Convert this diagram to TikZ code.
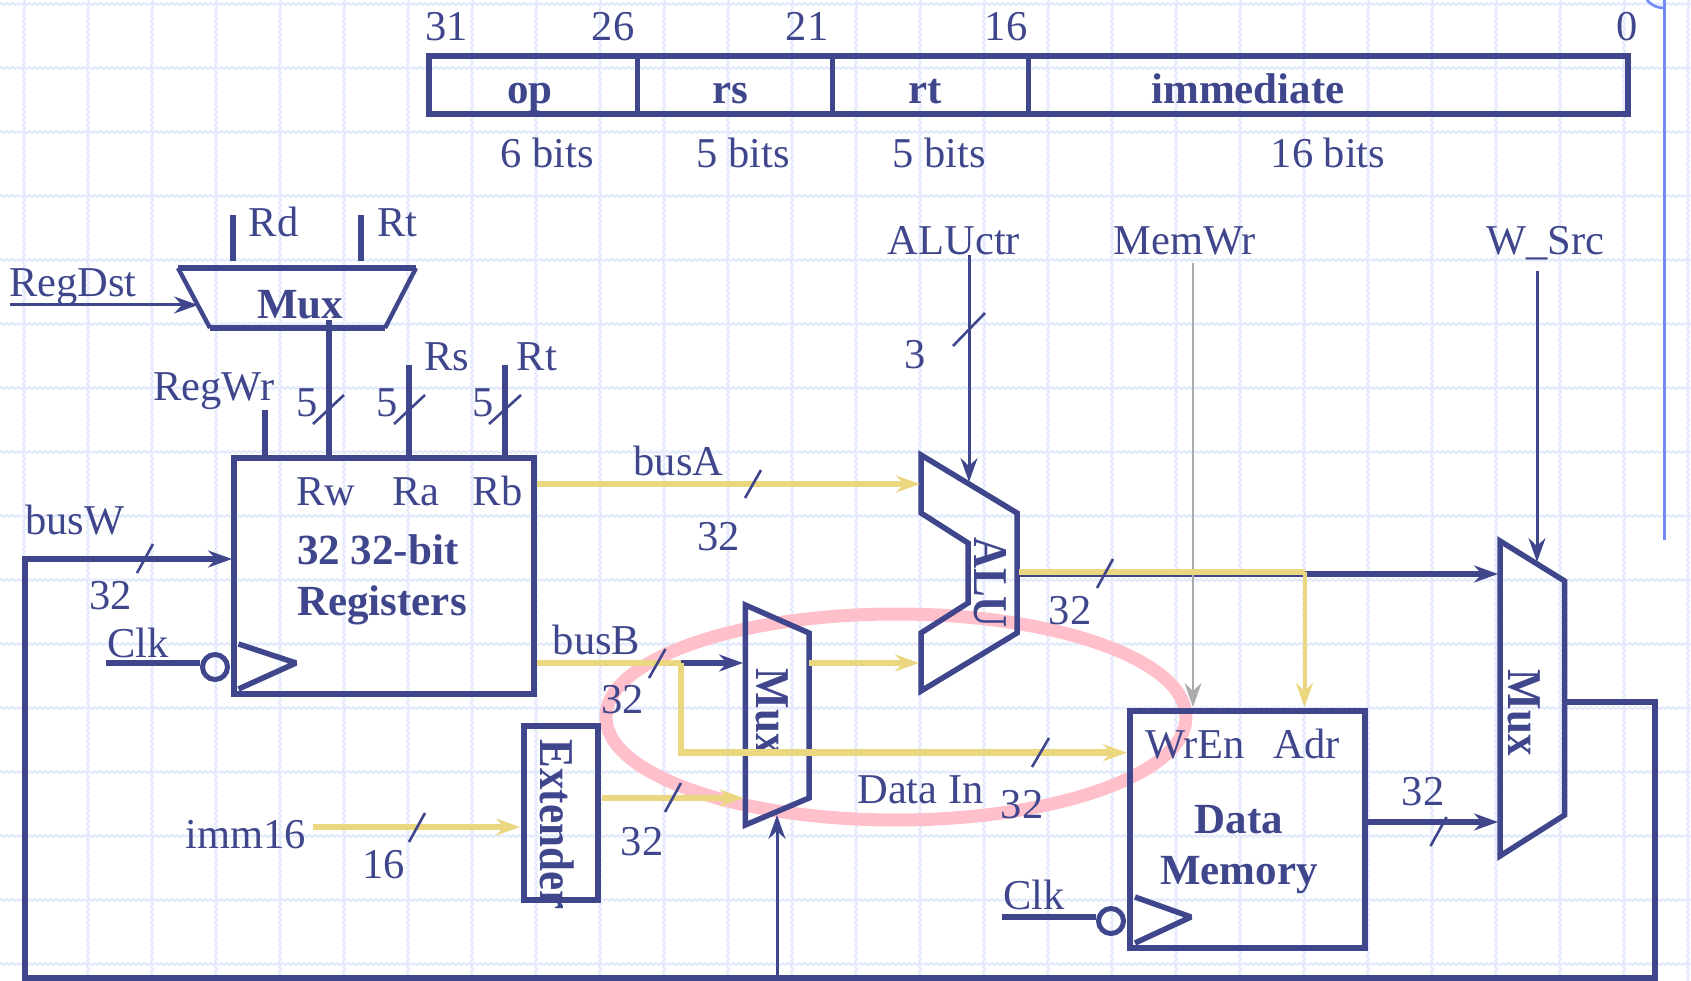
\documentclass[tikz,border=0pt]{standalone}
\usepackage{fontspec}
\setmainfont{Liberation Serif}
\usetikzlibrary{arrows.meta,decorations.pathmorphing,shapes.geometric}
\definecolor{navy}{HTML}{3F468C}
\definecolor{busyel}{HTML}{EBD780}
\definecolor{ringpink}{HTML}{FFC0CB}
\definecolor{edgeblue}{HTML}{7389F5}
\definecolor{gridblue}{HTML}{E4EBFC}
\definecolor{ctlgray}{HTML}{ABABAB}
\newcommand{\tallbold}[1]{\scalebox{1}[1.13]{#1}}
\tikzset{
  lab/.style={anchor=base,text=navy,inner sep=0pt,yshift=-1.5pt,font=\fontsize{42.5}{45}\selectfont},
  blab/.style={lab,font=\fontsize{43}{45}\selectfont\bfseries},
  vlab/.style={blab,rotate=-90,yshift=3.5pt,xshift=2pt},
  boxst/.style={draw=navy,line width=6pt,inner sep=0pt,outer sep=0pt,rectangle},
  shapeline/.style={draw=navy,line width=5.5pt,line join=miter},
  clockline/.style={draw=navy,line width=5.5pt,line join=bevel},
  tip/.style={-{Stealth[length=24pt,width=17pt,inset=8pt]}},
  wthick/.style={draw=navy,line width=6pt},
  wthin/.style={draw=navy,line width=3pt},
  wyel/.style={draw=busyel,line width=6.5pt},
  wgray/.style={draw=ctlgray,line width=2.4pt},
  ticksl/.style={draw=navy,line width=2.6pt},
  gridl/.style={draw=gridblue,line width=2.2pt,decorate,decoration={snake,segment length=5.5pt,amplitude=0.9pt}},
}
\begin{document}
\begin{tikzpicture}[x=1pt,y=-1pt]
\useasboundingbox (0,0) rectangle (1691,981);
\begin{scope}
\clip (0,0) rectangle (1691,981);
% background grid
\foreach \g in {4,68,132,196,260,324,388,452,516,580,644,708,772,836,900,964}
  \draw[gridl] (0,\g) -- (1691,\g);
\foreach \g in {24,88,152,216,280,344,408,472,536,600,664,728,792,856,920,984,1048,1112,1176,1240,1304,1368,1432,1496,1560,1624,1688}
  \draw[gridl] (\g,0) -- (\g,981);
% slide edge
\draw[draw=edgeblue,line width=2.6pt] (1664.4,0) -- (1664.4,540);
\draw[draw=edgeblue,line width=2.6pt] (1647,0) .. controls (1652,6) and (1658,8) .. (1664.4,8);
\end{scope}
% highlight ring
\node[draw=ringpink,line width=13pt,ellipse,minimum width=580pt,minimum height=206pt,inner sep=0pt,outer sep=0pt] (ring) at (896,717) {};

% instruction format
\node[boxst,minimum width=1199pt,minimum height=58pt] (fmt) at (1028.5,85) {};
\coordinate (d1t) at (637,54); \coordinate (d1b) at (637,114);
\coordinate (d2t) at (832,54); \coordinate (d2b) at (832,114);
\coordinate (d3t) at (1028.6,54); \coordinate (d3b) at (1028.6,114);
\draw[draw=navy,line width=5pt] (d1t) -- (d1b);
\draw[draw=navy,line width=5pt] (d2t) -- (d2b);
\draw[draw=navy,line width=5pt] (d3t) -- (d3b);
\node[lab] (b31) at (446.5,39) {31};
\node[lab] (b26) at (613,39) {26};
\node[lab] (b21) at (807,39) {21};
\node[lab] (b16) at (1006,39) {16};
\node[lab] (b0) at (1627,39) {0};
\node[blab] (fop) at (530,102) {op};
\node[blab] (frs) at (730,102) {rs};
\node[blab] (frt) at (925,102) {rt};
\node[blab] (fimm) at (1248,102) {immediate};
\node[lab] (w6) at (547.5,166) {6 bits};
\node[lab] (w5a) at (743.5,166) {5 bits};
\node[lab] (w5b) at (939,166) {5 bits};
\node[lab] (w16) at (1328,166) {16 bits};

% RegDst mux
\coordinate (mt1) at (178,268); \coordinate (mt2) at (416,268);
\coordinate (mt3) at (385,328); \coordinate (mt4) at (210,328);
\draw[shapeline,line width=4.4pt] (mt1) -- (mt4) (mt2) -- (mt3);
\draw[wthick,line width=6.5pt] (mt1) -- (mt2);
\draw[wthick,line width=6.5pt] (mt4) -- (mt3);
\node[blab] (mtxt) at (300,317) {Mux};
\coordinate (rdT) at (233,215); \coordinate (rdB) at (233,261);
\coordinate (rtT) at (360.5,215); \coordinate (rtB) at (360.5,261);
\draw[wthick] (rdT) -- (rdB);
\draw[wthick] (rtT) -- (rtB);
\node[lab] (lRd) at (273.5,235) {Rd};
\node[lab] (lRt) at (397.5,235) {Rt};
\node[lab] (lRegDst) at (73,295) {RegDst};
\coordinate (rdsA) at (10,305); \coordinate (rdsB) at (198,305);
\draw[wthin,tip] (rdsA) -- (rdsB);

% Registers
\node[boxst,minimum width=300pt,minimum height=236pt] (regs) at (384,576) {};
\coordinate (rwT) at (328.5,320); \coordinate (rwB) at (328.5,457);
\coordinate (raT) at (408.7,365); \coordinate (raB) at (408.7,457);
\coordinate (rbT) at (504.6,365); \coordinate (rbB) at (504.6,457);
\coordinate (wrT) at (264.5,410); \coordinate (wrB) at (264.5,457);
\draw[wthick] (rwT) -- (rwB);
\draw[wthick] (raT) -- (raB);
\draw[wthick] (rbT) -- (rbB);
\draw[wthick] (wrT) -- (wrB);
\draw[ticksl] (313,424) -- (344,395);
\draw[ticksl] (394,424) -- (425,395);
\draw[ticksl] (489,424) -- (521,395);
\node[lab] (n5a) at (307,415) {5};
\node[lab] (n5b) at (387,415) {5};
\node[lab] (n5c) at (483,415) {5};
\node[lab] (lRs) at (447,369) {Rs};
\node[lab] (lRt2) at (537,369) {Rt};
\node[lab] (lRegWr) at (214,399) {RegWr};
\node[lab] (lRw) at (326,504) {Rw};
\node[lab] (lRa) at (416,504) {Ra};
\node[lab] (lRb) at (497.5,504) {Rb};
\node[blab,anchor=base west] (l3232) at (297,563) {32 32-bit};
\node[blab,anchor=base west] (lRegs) at (297,614) {Registers};
\coordinate (ck1a) at (238.5,644); \coordinate (ck1b) at (296,663); \coordinate (ck1c) at (238.5,689);
\draw[clockline] (ck1a) -- (ck1b) -- (ck1c);
\node[draw=navy,line width=5pt,circle,minimum size=25pt,inner sep=0pt] (bub1) at (215,667) {};
\coordinate (clk1) at (105.7,662.7);
\draw[wthick] (clk1) -- (clk1 -| bub1.west);
\node[lab] (lClk1) at (138,656) {Clk};

% ALU
\coordinate (a1) at (921,455); \coordinate (a2) at (1017,513); \coordinate (a3) at (1017,633);
\coordinate (a4) at (921,691); \coordinate (a5) at (921,633); \coordinate (a6) at (968,603);
\coordinate (a7) at (968,543); \coordinate (a8) at (921,513);
\draw[shapeline] (a1) -- (a2) -- (a3) -- (a4) -- (a5) -- (a6) -- (a7) -- (a8) -- cycle;
\node[vlab] (lALU) at (971,579) {\tallbold{ALU}};
\node[lab] (lALUctr) at (954,253) {ALUctr};
\node[lab] (lMemWr) at (1184.5,253) {MemWr};
\node[lab] (lWSrc) at (1545,253) {W\_Src};
\coordinate (aluT) at (969,255); \coordinate (aluB) at (969,482);
\draw[wthin,tip] (aluT) -- (aluB);
\draw[ticksl] (953,346) -- (985,313);
\node[lab] (n3) at (915,367) {3};

% muxes
\coordinate (m1) at (745.3,605); \coordinate (m2) at (809,633);
\coordinate (m3) at (809,798); \coordinate (m4) at (745.3,825);
\draw[shapeline] (m1) -- (m2) -- (m3) -- (m4) -- cycle;
\node[vlab] (lMux1) at (753,708) {\tallbold{Mux}};
\coordinate (r1) at (1500,541); \coordinate (r2) at (1564.6,581);
\coordinate (r3) at (1564.6,815); \coordinate (r4) at (1500,856);
\draw[shapeline] (r1) -- (r2) -- (r3) -- (r4) -- cycle;
\node[vlab] (lMux2) at (1505,709) {\tallbold{Mux}};

% Extender
\node[boxst,minimum width=74pt,minimum height=174pt] (ext) at (560.5,813) {};
\node[vlab] (lExt) at (537,821) {\tallbold{Extender}};
\node[lab] (limm) at (246,847) {imm16};
\coordinate (immA) at (313,827); \coordinate (immB) at (520,827);
\draw[wyel,tip] (immA) -- (immB);
\draw[ticksl] (409,842) -- (425,813);
\node[lab] (n16) at (383.5,877) {16};

% Data memory
\node[boxst,minimum width=235pt,minimum height=237pt] (dmem) at (1247.5,829.5) {};
\node[lab] (lWrEn) at (1195,757) {WrEn};
\node[lab] (lAdr) at (1306.5,757) {Adr};
\node[blab] (lData) at (1239,832) {Data};
\node[blab] (lMem) at (1239,883) {Memory};
\coordinate (ck2a) at (1135,897); \coordinate (ck2b) at (1191,917); \coordinate (ck2c) at (1135,943);
\draw[clockline] (ck2a) -- (ck2b) -- (ck2c);
\node[draw=navy,line width=5pt,circle,minimum size=25pt,inner sep=0pt] (bub2) at (1111,921) {};
\coordinate (clk2) at (1002,917);
\draw[wthick] (clk2) -- (clk2 -| bub2.west);
\node[lab] (lClk2) at (1034,908) {Clk};

% loop bus W
\coordinate (lp0) at (1566,702); \coordinate (lp1) at (1655,702); \coordinate (lp2) at (1655,978);
\coordinate (lp3) at (25,978); \coordinate (lp4) at (25,559); \coordinate (lp5) at (232,559);
\draw[wthick,tip] (lp0) -- (lp1) -- (lp2) -- (lp3) -- (lp4) -- (lp5);
\draw[ticksl] (137,573) -- (153,544);
\node[lab] (lbusW) at (75,533) {busW};
\node[lab] (n32w) at (110.5,608) {32};

% busA
\coordinate (baA) at (537,484); \coordinate (baB) at (920,484);
\draw[wyel,tip] (baA) -- (baB);
\draw[ticksl] (745,498) -- (761,470);
\node[lab] (lbusA) at (678.5,474) {busA};
\node[lab] (n32a) at (718.5,549) {32};

% busB
\coordinate (bbA) at (537,663); \coordinate (bbJ) at (681,663); \coordinate (bbM) at (743,663);
\coordinate (bbD) at (681,752.7); \coordinate (bbE) at (1127,752.7);
\draw[wthick,tip] (bbJ) -- (bbM);
\draw[wyel] (bbA) -- (bbJ);
\draw[wyel,tip] (bbJ) -- (bbD) -- (bbE);
\draw[ticksl] (649,678) -- (665.5,649);
\node[lab] (lbusB) at (596.5,653) {busB};
\node[lab] (n32b) at (622.5,712) {32};
\node[lab] (lDataIn) at (920.5,802) {Data In};
\draw[ticksl] (1032,767) -- (1049,738);
\node[lab] (n32d) at (1022,817) {32};

% Extender and mux out
\coordinate (exA) at (601.6,798); \coordinate (exB) at (743.6,798);
\draw[wyel,tip] (exA) -- (exB);
\draw[ticksl] (665,812) -- (681,783);
\node[lab] (n32e) at (642,854) {32};
\coordinate (moA) at (809,663); \coordinate (moB) at (919,663);
\draw[wyel,tip] (moA) -- (moB);
\coordinate (mcB) at (777,978); \coordinate (mcT) at (777,815);
\draw[wthin,tip] (mcB) -- (mcT);

% ALU output
\coordinate (aoA) at (1017,574); \coordinate (aoB) at (1498,574);
\coordinate (ayA) at (1019,572); \coordinate (ayJ) at (1304.5,572); \coordinate (ayD) at (1304.5,707);
\coordinate (mwT) at (1193,263); \coordinate (mwB) at (1193,707);
\draw[wthick,tip] (aoA) -- (aoB);
\draw[wgray,tip] (mwT) -- (mwB);
\draw[wyel] (ayA) -- (ayJ);
\draw[wyel,line width=4pt,tip] (ayJ) -- (ayD);
\draw[ticksl] (1097,588) -- (1113,559);
\node[lab] (n32o) at (1070,623) {32};
% W_Src
\coordinate (wsT) at (1537,271); \coordinate (wsB) at (1537,562);
\draw[wthin,tip] (wsT) -- (wsB);
% data memory output
\coordinate (dmA) at (1366,822); \coordinate (dmB) at (1498,822);
\draw[wthick,tip] (dmA) -- (dmB);
\draw[ticksl] (1430.5,846) -- (1446.6,817);
\node[lab] (n32m) at (1423,804) {32};
\end{tikzpicture}
\end{document}
